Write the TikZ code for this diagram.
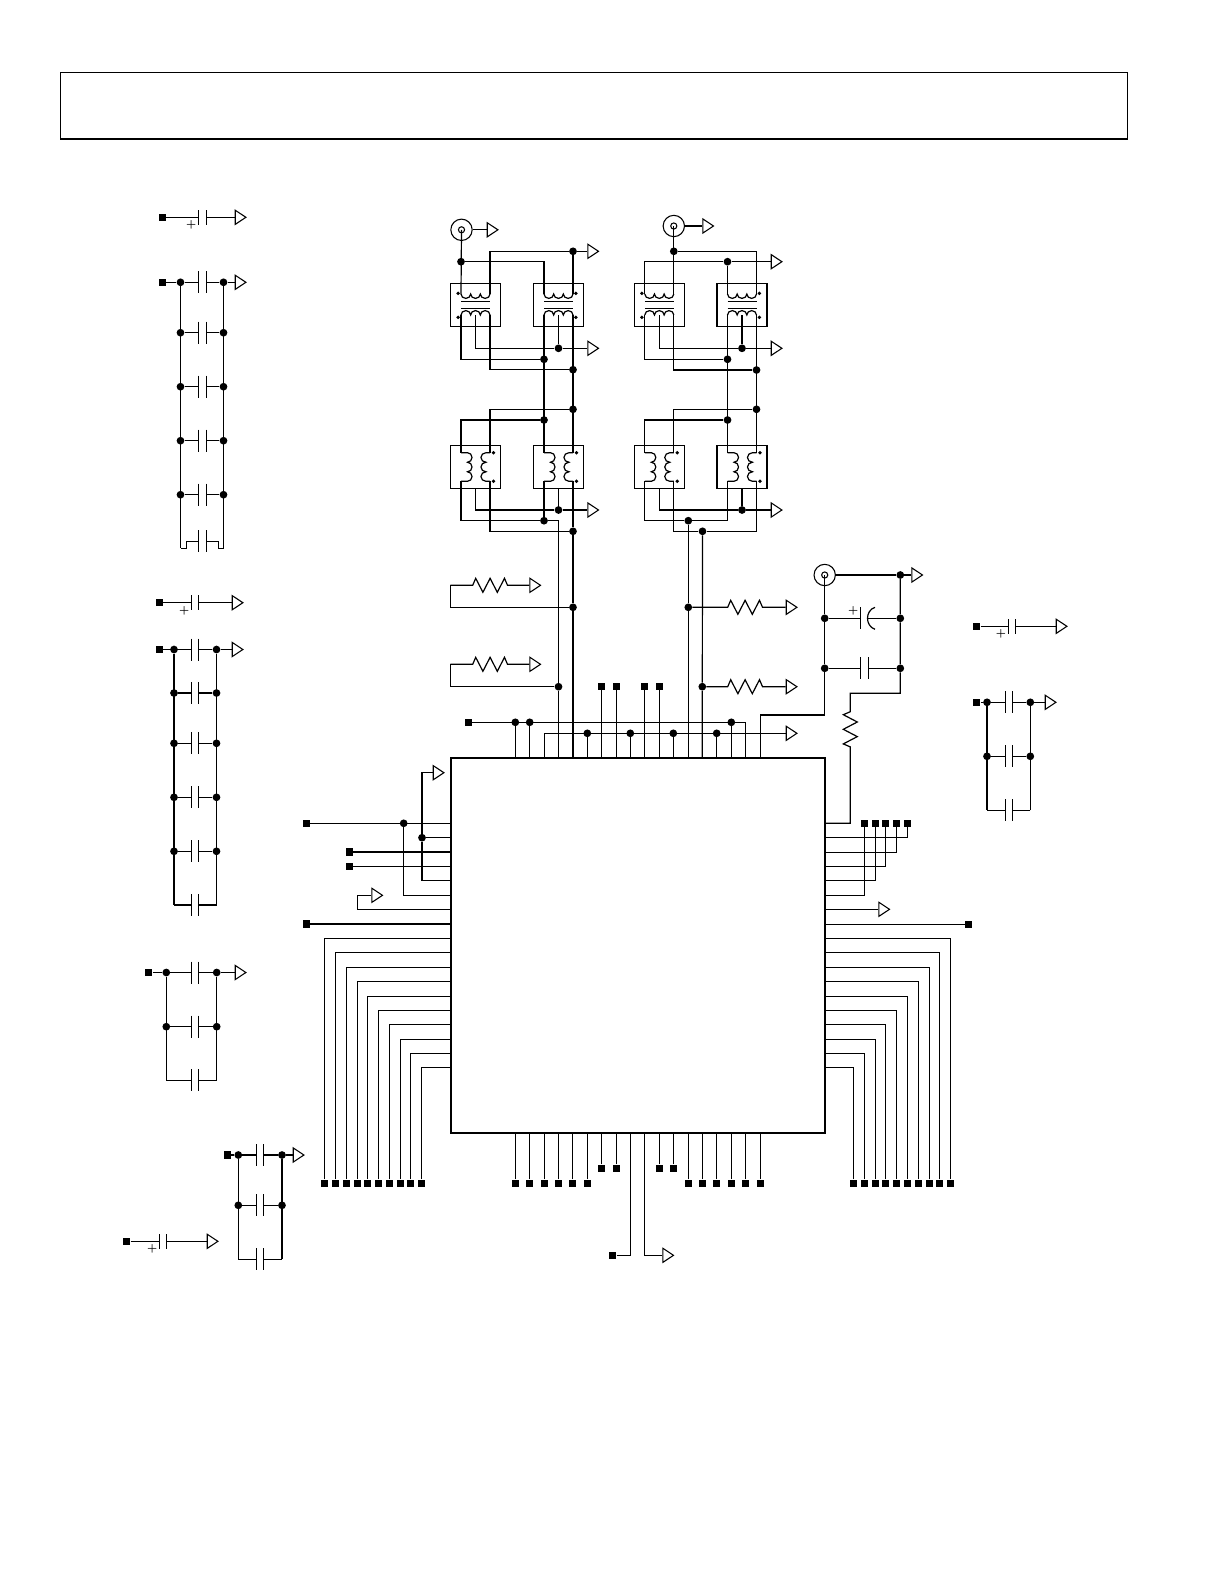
\documentclass[tikz,border=0pt]{standalone}
\usetikzlibrary{shapes.geometric}
\tikzset{
  wire/.style={line width=0.9pt},
  dot/.style={circle,fill=black,inner sep=0pt,minimum size=5.8pt},
  xdot/.style={circle,fill=black,inner sep=0pt,minimum size=2.8pt},
  pin/.style={rectangle,fill=black,inner sep=0pt,minimum size=5.5pt},
  gnd/.style={isosceles triangle,isosceles triangle stretches,draw,fill=white,line width=0.8pt,inner sep=0pt,
    minimum width=10.6pt,minimum height=8pt,anchor=lower side},
  xbox/.style={rectangle,draw,line width=0.9pt,inner sep=0pt,minimum width=37.5pt,minimum height=32.4pt},
  coax/.style={circle,draw,line width=0.8pt,inner sep=0pt,minimum size=16pt},
  coaxin/.style={circle,draw,line width=0.8pt,inner sep=0pt,minimum size=4.6pt},
  plus/.style={inner sep=0pt,font=\footnotesize\bfseries},
}
\newcommand{\hcap}[4]{
  \coordinate (capa) at (#3,0);
  \coordinate (capb) at (#3+7.4,0);
  \draw[wire] (#1) -- (#1 -| capa) ++(0,-#4) -- ++(0,2*#4);
  \draw[wire] (#2) -- (#1 -| capb) ++(0,-#4) -- ++(0,2*#4);
}
\newcommand{\hres}[3]{
  \draw[wire] (#1) -- (#1 -| #3,0) -- ++(3,-7) -- ++(7.2,14) -- ++(7.2,-14) -- ++(7.2,14) -- ++(7.2,-14) -- ++(3,7) -- (#2);
}
\newcommand{\capbank}[6]{
  \foreach \y [count=\i] in {#5} {
    \node[dot] (#1l\i) at (#2,\y) {};
    \node[dot] (#1r\i) at (#3,\y) {};
    \hcap{#1l\i}{#1r\i}{#4}{11}
  }
  \coordinate (#1lb) at (#2,#6);
  \coordinate (#1rb) at (#3,#6);
  \draw[wire] (#1l1) -- (#1lb);
  \draw[wire] (#1r1) -- (#1rb);
}
\newcommand{\polcap}[6]{
  \node[pin] (#1p) at (#2,#5) {};
  \node[gnd] (#1g) at (#4,#5) {};
  \hcap{#1p}{#1g}{#3}{7.3}
  \node[plus] (#1s) at (#6,#5+8) {+};
}
\newcommand{\xfh}[3]{
  \node[xbox] (#1) at (#2,305) {};
  \coordinate (#1tl) at (#2-14.5,294);
  \coordinate (#1tr) at (#2+14.5,294);
  \coordinate (#1bl) at (#2-14.5,315);
  \coordinate (#1br) at (#2+14.5,315);
  \coordinate (#1tap) at (#2,315);
  \draw[wire] (#1tl) arc[start angle=180,end angle=360,x radius=3.625pt,y radius=3.3pt]
    arc[start angle=180,end angle=360,x radius=3.625pt,y radius=3.3pt]
    arc[start angle=180,end angle=360,x radius=3.625pt,y radius=3.3pt];
  \draw[wire] (#1bl) arc[start angle=180,end angle=0,x radius=3.625pt,y radius=3.3pt]
    arc[start angle=180,end angle=0,x radius=3.625pt,y radius=3.3pt]
    arc[start angle=180,end angle=0,x radius=3.625pt,y radius=3.3pt];
  \draw[wire] (#2-14.5,301.3) -- (#2+14.5,301.3);
  \draw[wire] (#2-14.5,308.3) -- (#2+14.5,308.3);
  \node[xdot] (#1da) at (#2+#3,293.3) {};
  \node[xdot] (#1db) at (#2+#3,317.3) {};
}
\newcommand{\xfv}[2]{
  \node[xbox] (#1) at (#2,466.8) {};
  \coordinate (#1tl) at (#2-14.5,452.7);
  \coordinate (#1tr) at (#2+14.5,452.7);
  \coordinate (#1bl) at (#2-14.5,481.3);
  \coordinate (#1br) at (#2+14.5,481.3);
  \draw[wire] (#1tl) -- ++(6.5,0) arc[start angle=90,end angle=-90,x radius=3.4pt,y radius=3.575pt]
    arc[start angle=90,end angle=-90,x radius=3.4pt,y radius=3.575pt]
    arc[start angle=90,end angle=-90,x radius=3.4pt,y radius=3.575pt] -- (#1bl);
  \draw[wire] (#1tr) -- ++(-4,0) arc[start angle=90,end angle=270,x radius=3.8pt,y radius=3.575pt]
    arc[start angle=90,end angle=270,x radius=3.8pt,y radius=3.575pt]
    arc[start angle=90,end angle=270,x radius=3.8pt,y radius=3.575pt] -- (#1br);
  \node[xdot] (#1da) at (#2+18,452.7) {};
  \node[xdot] (#1db) at (#2+18,481.3) {};
}
\begin{document}
\begin{tikzpicture}[x=0.75pt,y=-0.75pt]
  \path[use as bounding box,fill=white] (0,0) rectangle (1225,1585);

  \node[draw,line width=0.8pt,inner sep=0pt,minimum width=799.9pt,minimum height=49.2pt] (header) at (593.8,105.6) {};
  \draw[line width=2pt] (header.south west) -- (header.south east);

  \node[draw,line width=1.4pt,inner sep=0pt,minimum width=280.5pt,minimum height=280.8pt] (chip) at (638,945.5) {};

  % decoupling banks
  \capbank{ba}{180.5}{223.5}{198.7}{282.3,332.7,386.7,440.7,494.7}{548.3}
  \node[pin] (bap) at (162.3,282.3) {};
  \node[gnd] (bag) at (234.7,282.3) {};
  \draw[wire] (bap) -- (bal1);
  \draw[wire] (bar1) -- (bag);
  \coordinate (nl) at (186.8,541.3);
  \coordinate (nr) at (218.4,541.3);
  \draw[wire] (balb) -- (nl |- balb) -- (nl) -- ++(12,0) ++(0,-11) -- ++(0,22);
  \draw[wire] (barb) -- (nr |- barb) -- (nr) -- ++(-12.3,0) ++(0,-11) -- ++(0,22);

  \capbank{bb}{174}{216.5}{191.3}{649.5,693,743.3,797.3,851.3}{905}
  \node[pin] (bbp) at (159.3,649.5) {};
  \node[gnd] (bbg) at (231.7,649.5) {};
  \draw[wire] (bbp) -- (bbl1);
  \draw[wire] (bbr1) -- (bbg);
  \hcap{bblb}{bbrb}{191.3}{11}

  \capbank{bc}{166.3}{216.7}{191.3}{972.5,1026.7}{1080.3}
  \node[pin] (bcp) at (148.7,972.5) {};
  \node[gnd] (bcg) at (234.7,972.5) {};
  \draw[wire] (bcp) -- (bcl1);
  \draw[wire] (bcr1) -- (bcg);
  \hcap{bclb}{bcrb}{191.3}{11}

  \capbank{bd}{238.3}{282}{256.3}{1155,1205.3}{1259.3}
  \node[pin] (bdp) at (227.3,1155) {};
  \node[gnd] (bdg) at (292.7,1155) {};
  \draw[wire] (bdp) -- (bdl1);
  \draw[wire] (bdr1) -- (bdg);
  \hcap{bdlb}{bdrb}{256.3}{11}

  \capbank{be}{987}{1030.3}{1005.3}{702.3,756.3}{810.3}
  \node[pin] (bep) at (976.7,702.3) {};
  \node[gnd] (beg) at (1044.7,702.3) {};
  \draw[wire] (bep) -- (bel1);
  \draw[wire] (ber1) -- (beg);
  \hcap{belb}{berb}{1005.3}{11}

  \polcap{pa}{162.3}{198.7}{234.7}{217.3}{191.3}
  \polcap{pb}{159.3}{191.3}{231.7}{602.7}{184.3}
  \polcap{pc}{126.7}{159.3}{206.7}{1241.3}{152.3}
  \polcap{pd}{976.7}{1008.3}{1055.7}{626.3}{1001}

  % transformers
  \xfh{ta}{475.5}{-17.4}
  \xfh{tb}{558.5}{17.4}
  \xfh{tc}{659.3}{-17.4}
  \xfh{td}{742}{17.4}
  \xfv{va}{475.5}
  \xfv{vb}{558.5}
  \xfv{vc}{659.3}
  \xfv{vd}{742}

  \node[coax] (cxa) at (461.5,229.8) {};
  \node[coaxin] (cxai) at (461.5,229.8) {};
  \node[gnd] (cxag) at (486.7,229.8) {};
  \draw[wire] (cxa) -- (cxag);
  \node[coax] (cxb) at (673.8,226) {};
  \node[coaxin] (cxbi) at (673.8,226) {};
  \node[gnd] (cxbg) at (702.3,226) {};
  \draw[wire] (cxb) -- (cxbg);

  \node[dot] (ja1) at (461,261.7) {};
  \node[dot] (ja2) at (573,251.3) {};
  \node[dot] (ja3) at (558.5,348.3) {};
  \node[dot] (ja4) at (544,359.3) {};
  \node[dot] (ja5) at (573,369.7) {};
  \node[dot] (ja6) at (573,409.3) {};
  \node[dot] (ja7) at (544,420) {};
  \node[dot] (ja8) at (558.5,510) {};
  \node[dot] (ja9) at (544,520.7) {};
  \node[dot] (ja10) at (573,531.3) {};
  \node[gnd] (ga1) at (587.3,251.3) {};
  \node[gnd] (ga2) at (587.3,348.3) {};
  \node[gnd] (ga3) at (587.3,510) {};
  \draw[wire] (cxai.center) -- (tatl);
  \draw[wire] (ja1) -| (tbtl);
  \draw[wire] (tatr) |- (ja2);
  \draw[wire] (tbtr) -- (ja2) -- (ga1);
  \draw[wire] (tatap) |- (ja3);
  \draw[wire] (tbtap) -- (ja3) -- (ga2);
  \draw[wire] (tabl) |- (ja4);
  \draw[wire] (tabr) |- (ja5);
  \draw[wire] (tbbl) -- (vbtl);
  \draw[wire] (tbbr) -- (vbtr);
  \draw[wire] (vatr) |- (ja6);
  \draw[wire] (vatl) |- (ja7);
  \draw[wire] (va.south) |- (ja8);
  \draw[wire] (vb.south) -- (ja8) -- (ga3);
  \draw[wire] (vabl) |- (ja9);
  \draw[wire] (vbbl) -- (ja9);
  \draw[wire] (vabr) |- (ja10);
  \draw[wire] (vbbr) -- (ja10);

  \node[dot] (jc1) at (727.5,261.7) {};
  \node[dot] (jc2) at (673.8,251.3) {};
  \node[dot] (jc3) at (742,348.3) {};
  \node[dot] (jc4) at (727.5,359.3) {};
  \node[dot] (jc5) at (756.5,370) {};
  \node[dot] (jc6) at (756.5,409.3) {};
  \node[dot] (jc7) at (727.5,420) {};
  \node[dot] (jc8) at (742,510) {};
  \node[dot] (jc9) at (688.3,520.7) {};
  \node[dot] (jc10) at (702.5,531.3) {};
  \node[gnd] (gc1) at (770.7,261.7) {};
  \node[gnd] (gc2) at (770.7,348.3) {};
  \node[gnd] (gc3) at (770.7,510) {};
  \draw[wire] (cxbi.center) -- (tctr);
  \draw[wire] (jc2) -| (tdtr);
  \draw[wire] (tctl) |- (jc1);
  \draw[wire] (tdtl) -- (jc1) -- (gc1);
  \draw[wire] (tctap) |- (jc3);
  \draw[wire] (tdtap) -- (jc3) -- (gc2);
  \draw[wire] (tcbl) |- (jc4);
  \draw[wire] (tcbr) |- (jc5);
  \draw[wire] (tdbl) -- (vdtl);
  \draw[wire] (tdbr) -- (vdtr);
  \draw[wire] (vctr) |- (jc6);
  \draw[wire] (vctl) |- (jc7);
  \draw[wire] (vc.south) |- (jc8);
  \draw[wire] (vd.south) -- (jc8) -- (gc3);
  \draw[wire] (vcbl) |- (jc9);
  \draw[wire] (vdbl) |- (jc9);
  \draw[wire] (vcbr) |- (jc10);
  \draw[wire] (vdbr) |- (jc10);

  % terminations
  \node[dot] (jb1) at (573,607.3) {};
  \node[dot] (jb2) at (558.5,686.7) {};
  \node[dot] (jd1) at (688.3,607.3) {};
  \node[dot] (jd2) at (702.3,686.7) {};
  \coordinate (ra) at (450.3,585.3);
  \coordinate (rb) at (450.3,664.3);
  \node[gnd] (gr1) at (529.3,585.3) {};
  \node[gnd] (gr2) at (529.3,664.3) {};
  \node[gnd] (gr3) at (785.7,607.3) {};
  \node[gnd] (gr4) at (785.7,686.7) {};
  \draw[wire] (jb1) -| (ra);
  \draw[wire] (jb2) -| (rb);
  \hres{ra}{gr1}{472.7}
  \hres{rb}{gr2}{472.7}
  \hres{jd1}{gr3}{727.7}
  \hres{jd2}{gr4}{727.7}
  \draw[wire] (ja10) -- (jb1) -- (jb1 |- chip.north);
  \draw[wire] (ja9) -| (jb2) -- (jb2 |- chip.north);
  \draw[wire] (jc9) -- (jd1) -- (jd1 |- chip.north);
  \draw[wire] (jc10) -- (jd2) -- (jd2 |- chip.north);

  % top edge of the chip
  \node[pin] (tp) at (468.3,722.3) {};
  \foreach \n/\x in {ea/515.3,eb/529.7,ec/731.3} {
    \node[dot] (\n) at (\x,722.3) {};
    \draw[wire] (\n) -- (\n |- chip.north);
  }
  \draw[wire] (tp) -| (chip.north -| 745.7,0);
  \foreach \n/\x in {fa/587.3,fb/630.3,fc/673.3,fd/716.7} {
    \node[dot] (\n) at (\x,733.3) {};
    \draw[wire] (\n) -- (\n |- chip.north);
  }
  \node[gnd] (gt) at (785.7,733.3) {};
  \draw[wire] (chip.north -| 544.3,0) |- (gt);
  \foreach \n/\x in {pt1/601.3,pt2/616.3,pt3/644.3,pt4/659.3} {
    \node[pin] (\n) at (\x,686.3) {};
    \draw[wire] (\n) -- (\n |- chip.north);
  }

  % coax at the right
  \node[coax] (cxc) at (824.7,575) {};
  \node[coaxin] (cxci) at (824.7,575) {};
  \node[dot] (jr1) at (824.7,618.3) {};
  \node[dot] (jr2) at (824.7,668.3) {};
  \node[dot] (jr3) at (900.3,575) {};
  \node[dot] (jr4) at (900.3,618.3) {};
  \node[dot] (jr5) at (900.3,668.3) {};
  \node[gnd] (gr5) at (911.3,575) {};
  \node[plus] (pol) at (853.3,610.7) {+};
  \coordinate (wa) at (760.3,715);
  \coordinate (wb) at (900.3,693.3);
  \coordinate (rv) at (850.3,711.7);
  \draw[wire] (cxci.center) -- (jr1) -- (jr2) |- (wa) -- (wa |- chip.north);
  \draw[wire] (cxc) -- (jr3) -- (gr5);
  \draw[wire] (jr3) -- (jr4) -- (jr5) -- (wb) -| (rv) -- ++(-7,3) -- ++(14,7.3) -- ++(-14,7.3) -- ++(14,7.3) -- ++(-14,7.3) -- ++(7,3) |- (chip.east |- 0,823.3);
  \draw[wire] (jr1) -- (860.7,618.3) ++(0,-11) -- ++(0,22);
  \draw[wire] (875,607.3) .. controls (865,610.5) and (865,626) .. (875,629.3);
  \draw[wire] (867.5,618.3) -- (jr4);
  \hcap{jr2}{jr5}{860.7}{11}

  % left edge
  \node[pin] (la) at (306.3,823.3) {};
  \node[pin] (lb) at (349.3,852) {};
  \node[pin] (lc) at (349.3,866.3) {};
  \node[pin] (ld) at (306.3,924) {};
  \foreach \n in {la,lb,lc,ld} {
    \draw[wire] (\n) -- (\n -| chip.west);
  }
  \node[dot] (je1) at (403.7,823.3) {};
  \node[dot] (je2) at (422,837.7) {};
  \node[gnd] (gl1) at (432.7,772.7) {};
  \node[gnd] (gl2) at (371.3,895.3) {};
  \coordinate (ca) at (357.3,909.3);
  \draw[wire] (je1) |- (chip.west |- 0,895.3);
  \draw[wire] (je2) -- (je2 -| chip.west);
  \draw[wire] (gl1) -| (je2) |- (chip.west |- 0,880.3);
  \draw[wire] (gl2) -| (ca) -- (ca -| chip.west);
  \foreach \x/\y [count=\i] in {324.3/938.3,335.3/952.3,346.3/967.3,357.3/981.3,367.3/996.3,378.3/1010.3,389.3/1024.3,400.3/1039.3,410.3/1053.3,421.7/1067.3} {
    \node[pin] (lp\i) at (\x,1183.3) {};
    \draw[wire] (lp\i) |- (chip.west |- 0,\y);
  }

  % right edge
  \foreach \x/\y [count=\i] in {907.7/837.3,896.7/852.3,885.3/866.3,875.3/880.3,864.3/895.3} {
    \node[pin] (rp\i) at (\x,823.3) {};
    \draw[wire] (rp\i) |- (chip.east |- 0,\y);
  }
  \node[gnd] (gr6) at (878.3,909.3) {};
  \node[pin] (re) at (968.7,924.3) {};
  \draw[wire] (gr6) -- (gr6 -| chip.east);
  \draw[wire] (re) -- (re -| chip.east);
  \foreach \x/\y [count=\i] in {950.3/938.3,939.3/952.3,929.3/967.3,918.3/981.3,907.3/996.3,896.3/1010.3,885.3/1024.3,875.3/1039.3,864.3/1053.3,853.3/1067.3} {
    \node[pin] (rq\i) at (\x,1183.3) {};
    \draw[wire] (rq\i) |- (chip.east |- 0,\y);
  }

  % bottom edge
  \foreach \x/\y [count=\i] in {515.3/1183.3,529.3/1183.3,544.3/1183.3,558.3/1183.3,572.7/1183.3,587.3/1183.3,601.7/1168.3,616.3/1168.3,659.3/1168.3,673.3/1168.3,688.3/1183.3,702.3/1183.3,716.3/1183.3,731.3/1183.3,745.3/1183.3,760.3/1183.3} {
    \node[pin] (bp\i) at (\x,\y) {};
    \draw[wire] (bp\i) -- (bp\i |- chip.south);
  }
  \node[pin] (bq) at (612.7,1255.3) {};
  \node[gnd] (bg) at (662.3,1255.3) {};
  \draw[wire] (bq) -| (chip.south -| 630.3,0);
  \draw[wire] (bg) -| (chip.south -| 644.3,0);
\end{tikzpicture}
\end{document}
